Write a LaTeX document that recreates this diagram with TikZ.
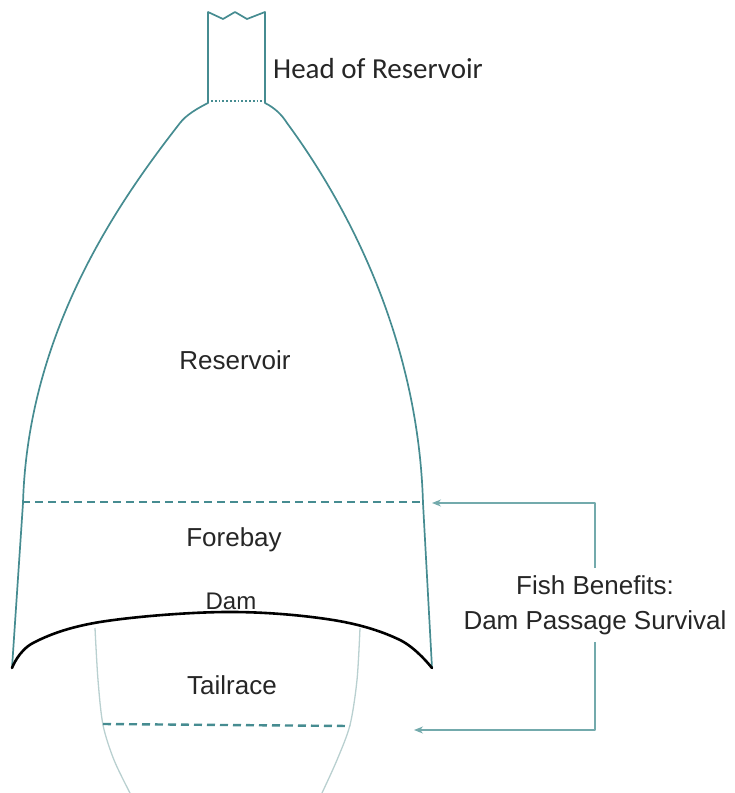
\documentclass[tikz,border=0pt]{standalone}
\usepackage{fontspec}
\setmainfont{Liberation Sans}
\newfontfamily\headfont{Carlito}
\usetikzlibrary{arrows.meta}
\definecolor{rescol}{RGB}{70,140,145}
\definecolor{brkcol}{RGB}{115,170,172}
\definecolor{tailcol}{RGB}{185,208,208}
\tikzset{
  lbl/.style={font=\fontsize{26}{35}\selectfont,text=black!85,inner sep=0pt},
  level/.style={rescol,line width=2.4pt,dash pattern=on 8pt off 5pt},
  brk/.style={brkcol,line width=1.1pt,-{Stealth[length=9pt,width=7pt]}}
}
\begin{document}
\begin{tikzpicture}[x=1pt,y={(0pt,-1pt)},line join=round]
  \useasboundingbox(0,0)rectangle(735,793);
  % outline of reservoir with neck
  \draw[rescol,line width=1.7pt](12,668)--(23,503)
      ..controls(28,330)and(120,200)..(180,123)
      ..controls(186,115)and(198,108)..(208,103)
      --(208,12)--(223,19)--(235,12)--(247,19)--(265,12)--(265,103)
      ..controls(275,108)and(282,115)..(287,123)
      ..controls(340,195)and(418,330)..(423,503)--(432,668);
  \draw[rescol,line width=1.8pt,dotted](211,101)--(263,101);
  % tailrace channel
  \draw[tailcol,line width=1.3pt]plot[smooth]coordinates{(95,628)(98,680)(103,725)(114,760)(130,793)};
  \draw[tailcol,line width=1.3pt]plot[smooth]coordinates{(360,628)(357,680)(350,725)(337,760)(322,793)};
  % dam
  \draw[line width=2.6pt,line cap=round]plot[smooth,tension=0.6]coordinates{(12,668)(33,643)(100,622)(225,612)(333,620)(400,640)(432,668)};
  % levels
  \coordinate(fbL)at(22,502);\coordinate(fbR)at(422,502);
  \coordinate(trL)at(103,724);\coordinate(trR)at(350,726);
  \draw[level](fbL)--(fbR);
  \draw[level](trL)--(trR);
  % labels
  \node[lbl,font=\headfont\fontsize{29}{35}\selectfont,anchor=west](head)at(273,69){Head of Reservoir};
  \node[lbl](res)at(235,360){Reservoir};
  \node[lbl](fore)at(234,540){Forebay};
  \node[lbl,font=\fontsize{24}{30}\selectfont](dam)at(231,601){Dam};
  \node[lbl](tail)at(232,685){Tailrace};
  \node[lbl,align=center,inner ysep=7pt](fish)at(595,605){Fish Benefits:\\Dam Passage Survival};
  % bracket
  \coordinate(fbtip)at(432,503);\coordinate(trtip)at(414,730);
  \draw[brk](fish.north)|-(fbtip);
  \draw[brk](fish.south)|-(trtip);
\end{tikzpicture}
\end{document}
